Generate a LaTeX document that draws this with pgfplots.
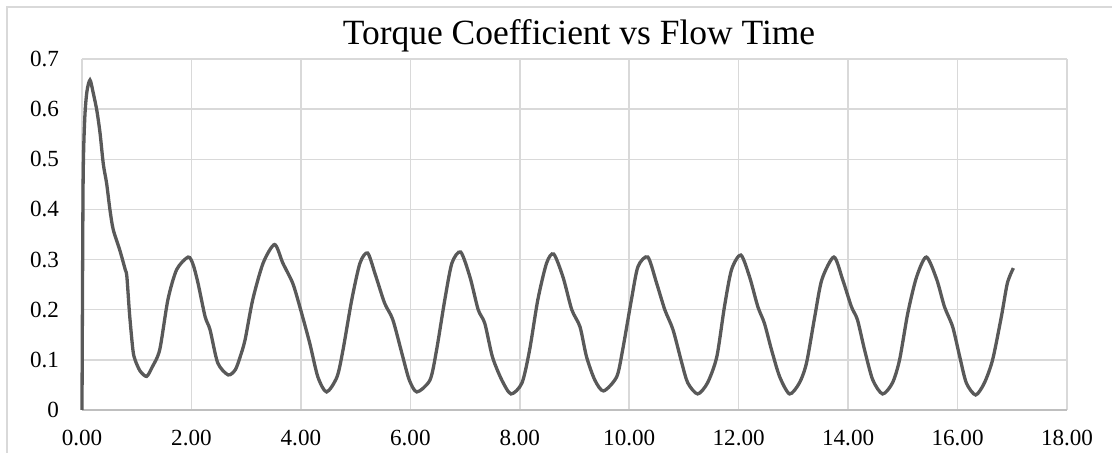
\documentclass[border=0pt]{standalone}
\usepackage{pgfplots}
\pgfplotsset{compat=1.18}
\usepackage{fontspec}
\setmainfont{Liberation Serif}
\definecolor{gridgray}{HTML}{D9D9D9}
\definecolor{axisgray}{HTML}{BFBFBF}
\definecolor{linegray}{HTML}{595959}
\begin{document}
\begin{tikzpicture}[x=0.5bp,y=0.5bp]
\useasboundingbox (-82,-43) rectangle (1030,410);
\draw[gridgray, line width=0.75bp] (-75,-43) -- (-75,403) -- (1030,403);
\node[anchor=base, font=\fontsize{17.8}{21}\selectfont] at (497,365) {Torque Coefficient vs Flow Time};
\begin{axis}[
  anchor=south west,
  scale only axis, width=492.5bp, height=175.5bp,
  xmin=0, xmax=18, ymin=0, ymax=0.7,
  xtick={0,2,...,18},
  ytick={0,0.1,0.2,0.3,0.4,0.5,0.6,0.7},
  axis lines=left,
  axis line style={-},
  x axis line style={axisgray, line width=0.75bp},
  y axis line style={draw=none},
  major tick length=0pt,
  grid=major,
  major grid style={gridgray, line width=0.75bp},
  tick label style={font=\fontsize{11.6}{13}\selectfont, text=black},
  xticklabel style={/pgf/number format/.cd, fixed, fixed zerofill, precision=2, assume math mode=true},
  yticklabel style={/pgf/number format/.cd, fixed, precision=1, assume math mode=true},
  xticklabel shift=6.5bp,
  yticklabel shift=8bp,
  clip=false,
]
\addplot[linegray, line width=1.65bp, smooth, tension=0.45] coordinates {
(0,0) (0.02,0.45) (0.05,0.58) (0.09,0.635) (0.146,0.658) (0.2,0.635) (0.27,0.598)
(0.33,0.552) (0.39,0.49) (0.45,0.452) (0.51,0.40) (0.57,0.36) (0.69,0.319) (0.79,0.28)
(0.82,0.266) (0.87,0.19) (0.93,0.12) (0.97,0.1) (1.06,0.078) (1.18,0.067) (1.28,0.085)
(1.42,0.12) (1.57,0.22) (1.73,0.28) (1.94,0.305) (2.03,0.29) (2.12,0.253) (2.25,0.186)
(2.34,0.16) (2.48,0.094) (2.67,0.07) (2.80,0.08) (2.89,0.106) (2.98,0.14) (3.12,0.22)
(3.31,0.293) (3.52,0.33) (3.67,0.293) (3.85,0.253) (3.98,0.206) (4.16,0.134) (4.31,0.066)
(4.47,0.036) (4.66,0.066) (4.77,0.12) (4.93,0.22) (5.08,0.293) (5.22,0.313) (5.36,0.27)
(5.53,0.213) (5.68,0.18) (5.86,0.107) (5.98,0.06) (6.12,0.036) (6.36,0.06) (6.48,0.12)
(6.63,0.22) (6.76,0.293) (6.92,0.315) (7.09,0.265) (7.24,0.2) (7.36,0.173) (7.5,0.106)
(7.67,0.06) (7.84,0.032) (8.04,0.054) (8.18,0.12) (8.33,0.22) (8.49,0.293) (8.62,0.311)
(8.79,0.265) (8.95,0.2) (9.1,0.166) (9.22,0.106) (9.37,0.06) (9.53,0.038) (9.77,0.066)
(9.88,0.12) (10.04,0.22) (10.16,0.286) (10.34,0.305) (10.5,0.253) (10.65,0.2) (10.8,0.16)
(10.96,0.094) (11.07,0.054) (11.25,0.032) (11.43,0.054) (11.6,0.106) (11.74,0.206)
(11.87,0.28) (12.04,0.309) (12.2,0.265) (12.35,0.206) (12.47,0.173) (12.6,0.12)
(12.75,0.066) (12.93,0.032) (13.11,0.054) (13.24,0.094) (13.39,0.186) (13.52,0.26)
(13.74,0.305) (13.9,0.26) (14.06,0.206) (14.17,0.18) (14.3,0.12) (14.45,0.06)
(14.63,0.032) (14.81,0.054) (14.94,0.1) (15.09,0.193) (15.25,0.265) (15.43,0.305)
(15.62,0.26) (15.76,0.206) (15.91,0.166) (16.04,0.106) (16.16,0.054) (16.33,0.03)
(16.49,0.054) (16.64,0.1) (16.8,0.186) (16.91,0.253) (17.02,0.283)
};
\end{axis}
\end{tikzpicture}
\end{document}
